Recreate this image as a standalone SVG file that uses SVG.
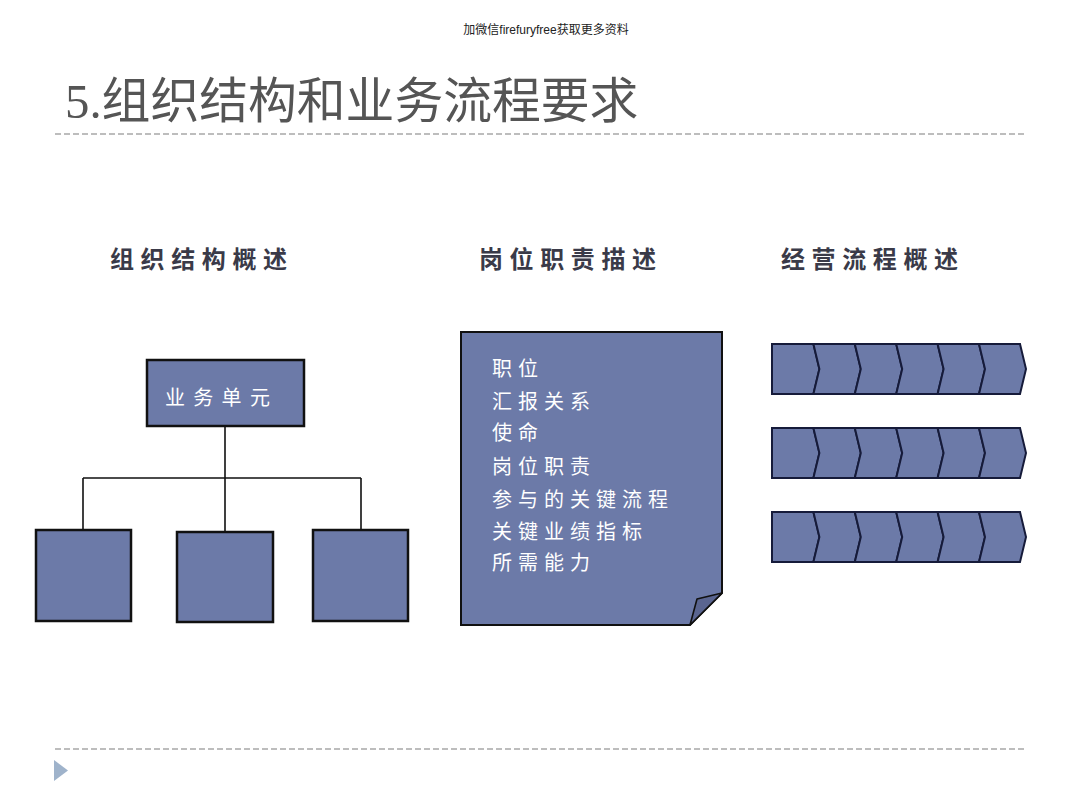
<svg xmlns="http://www.w3.org/2000/svg" width="1080" height="810" viewBox="0 0 1080 810">
<style>
.box{fill:#6c7aa8;stroke:#111;stroke-width:2.5}
.chev{fill:#6c7aa8;stroke:#161b3a;stroke-width:2;stroke-linejoin:miter}
.conn{stroke:#111;stroke-width:1.6;fill:none}
.dash{stroke:#a8a8a8;stroke-width:1.6;stroke-dasharray:6 3}
.head{font-family:"Noto Sans CJK SC","Noto Sans",sans-serif;font-size:24px;font-weight:bold;fill:#3a3a48;letter-spacing:6.6px}
.wt{font-family:"Noto Sans CJK SC","Noto Sans",sans-serif;fill:#fff;font-size:20px}
</style>
<rect width="1080" height="810" fill="#fff"/>
<text x="546" y="34" text-anchor="middle" font-family="Liberation Sans,'Noto Sans CJK SC',sans-serif" font-size="12" fill="#222">加微信firefuryfree获取更多资料</text>
<text x="65" y="118" font-family="'Liberation Serif','Noto Sans CJK SC',serif" font-size="48.8" fill="#555">5.组织结构和业务流程要求</text>
<line class="dash" x1="55" y1="134" x2="1025" y2="134"/>
<line class="dash" x1="55" y1="749" x2="1025" y2="749"/>
<polygon points="54,760 68,770.5 54,781" fill="#9fb3cb"/>
<text class="head" x="110" y="268">组织结构概述</text>
<text class="head" x="479" y="268">岗位职责描述</text>
<text class="head" x="781" y="268">经营流程概述</text>
<g id="connectors">
<path class="conn" d="M225,426 V478 M83,478 H361 M83,478 V530 M225,478 V532 M361,478 V530"/>
</g>
<g id="unit">
<rect class="box" x="147" y="360" width="157" height="66"/>
<text class="wt" x="165" y="405" letter-spacing="8.3">业务单元</text>
</g>
<g id="sub1"><rect class="box" x="36" y="530" width="95" height="91"/></g>
<g id="sub2"><rect class="box" x="177" y="532" width="96" height="90"/></g>
<g id="sub3"><rect class="box" x="313" y="530" width="95" height="91"/></g>
<g id="card">
<polygon points="461,332 722,332 722,593 690,625 461,625" fill="#6c7aa8" stroke="#111" stroke-width="2"/>
<polygon points="690,625 697,599 722,593" fill="#5a6590" stroke="#111" stroke-width="1.6" stroke-linejoin="round"/>
<g class="wt" letter-spacing="6">
<text x="492" y="376">职位</text>
<text x="492" y="409">汇报关系</text>
<text x="492" y="440">使命</text>
<text x="492" y="474">岗位职责</text>
<text x="492" y="507">参与的关键流程</text>
<text x="492" y="539">关键业绩指标</text>
<text x="492" y="570">所需能力</text>
</g>
</g>
<defs>
<g id="row">
<polygon class="chev" points="772,0 813.4,0 819.4,25 813.4,50 772,50"/>
<polygon class="chev" points="813.4,0 854.8,0 860.8,25 854.8,50 813.4,50 819.4,25"/>
<polygon class="chev" points="854.8,0 896.2,0 902.2,25 896.2,50 854.8,50 860.8,25"/>
<polygon class="chev" points="896.2,0 937.6,0 943.6,25 937.6,50 896.2,50 902.2,25"/>
<polygon class="chev" points="937.6,0 979,0 985,25 979,50 937.6,50 943.6,25"/>
<polygon class="chev" points="979,0 1020,0 1026,25 1020,50 979,50 985,25"/>
</g>
</defs>
<g id="process1"><use href="#row" y="344"/></g>
<g id="process2"><use href="#row" y="428"/></g>
<g id="process3"><use href="#row" y="512"/></g>
</svg>
